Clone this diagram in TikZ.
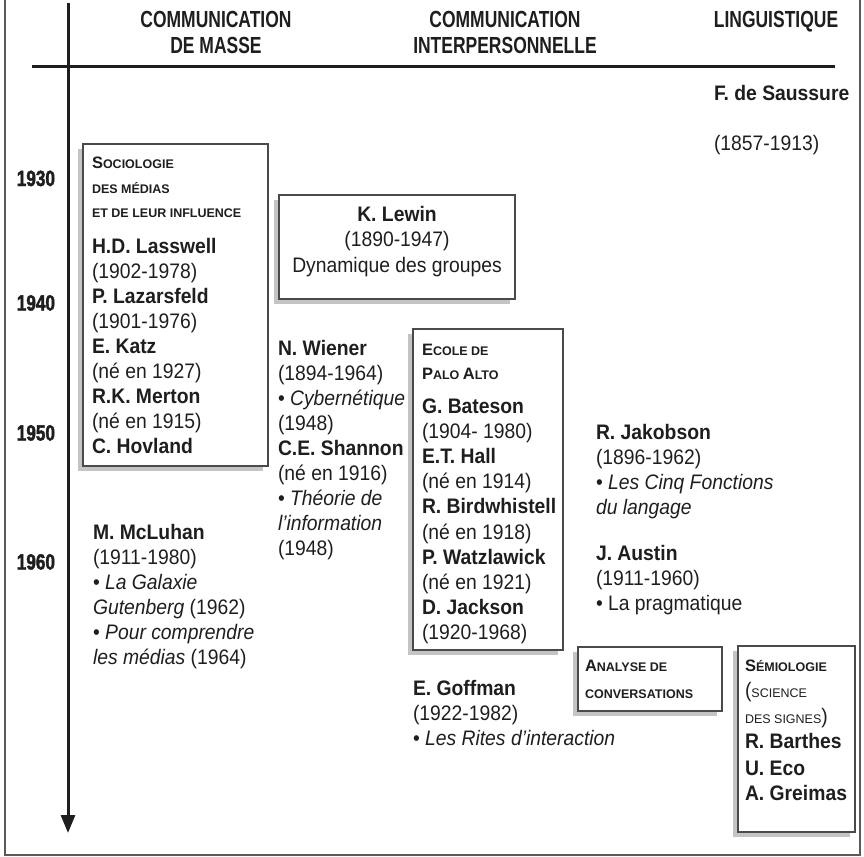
\documentclass[tikz,border=0pt]{standalone}
\usepackage{fontspec}
\setmainfont{Liberation Sans}[FakeStretch=0.92]
\newfontfamily\hdfont{Liberation Sans}[FakeStretch=0.75]
\newfontfamily\yrfont{Liberation Sans}[FakeStretch=0.78,FakeBold=2]
\newfontfamily\scfont{Liberation Sans}
\usetikzlibrary{shadows,arrows.meta}
\definecolor{ink}{HTML}{1E1E1E}
\definecolor{boxline}{HTML}{4A4A4A}
\definecolor{shade}{HTML}{C4C4C4}
\definecolor{framecol}{HTML}{5A5A5A}
\newcommand\fs{\rule{0pt}{19pt}}
\newcommand\SC[2]{{\scfont\bfseries\fontsize{16.5}{25}\selectfont #1\fontsize{12.5}{25}\selectfont #2}}
\newcommand\SCr[1]{{\scfont\fontsize{12.5}{25}\selectfont #1}}
\begin{document}
\begin{tikzpicture}[x=1pt,y=-1pt,
  box/.style={draw=boxline, line width=1.2pt, fill=white,
    drop shadow={shadow xshift=-5pt, shadow yshift=-5pt, fill=shade, opacity=1},
    inner sep=0pt, outer sep=0pt, anchor=north west},
  txt/.style={inner sep=0pt, outer sep=0pt, anchor=north west, align=left,
    font=\fontsize{21}{25}\selectfont, text=ink},
  hd/.style={inner sep=0pt, outer sep=0pt, anchor=north, align=center,
    font=\hdfont\bfseries\fontsize{23.3}{25.5}\selectfont, text=ink},
  yr/.style={inner sep=0pt, outer sep=0pt, anchor=base east,
    font=\yrfont\bfseries\fontsize{22}{25}\selectfont, text=ink},
  rule/.style={line width=3pt, draw=ink}]
\useasboundingbox (0,0) rectangle (864,856);

% outer frame
\coordinate (fTL) at (5,0);
\coordinate (fBL) at (5,855);
\coordinate (fBR) at (860,855);
\coordinate (fTR) at (860,0);
\draw[line width=1.5pt, framecol] (fTL) -- (fBL) -- (fBR) -- (fTR);

% axes
\coordinate (axtop) at (68,3);
\coordinate (axbot) at (68,833);
\draw[rule, -{Triangle[width=14pt,length=18pt]}] (axtop) -- (axbot);
\coordinate (hl) at (32,67);
\coordinate (hr) at (835,67);
\draw[rule] (hl) -- (hr);

% headers
\node[hd] (hmasse) at (216,9) {\fs COMMUNICATION\\ DE MASSE};
\node[hd] (hinter) at (505,9) {\fs COMMUNICATION\\ INTERPERSONNELLE};
\node[hd] (hling) at (776,9) {\fs LINGUISTIQUE};

% years
\node[yr] (y1930) at (55,186) {1930};
\node[yr] (y1940) at (55,310.5) {1940};
\node[yr] (y1950) at (55,440.5) {1950};
\node[yr] (y1960) at (55,569.5) {1960};

% Saussure
\node[txt] (saussure) at (714,81) {\fs\textbf{F. de Saussure}\\[25pt] (1857-1913)};

% Sociologie box
\node[box, minimum width=185pt, minimum height=322pt] (socbox) at (83,144) {};
\node[txt] (soctxt) at (92,149) {\fs\SC{S}{OCIOLOGIE}\\ \SC{}{DES MÉDIAS}\\[-0.5pt] \SC{}{ET DE LEUR INFLUENCE}\\[11pt]
  \textbf{H.D. Lasswell}\\ (1902-1978)\\ \textbf{P. Lazarsfeld}\\ (1901-1976)\\ \textbf{E. Katz}\\ (né en 1927)\\
  \textbf{R.K. Merton}\\ (né en 1915)\\ \textbf{C. Hovland}};

% Lewin box
\node[box, minimum width=236pt, minimum height=104pt] (lewinbox) at (279,195) {};
\node[txt, anchor=north, align=center, font=\fontsize{21}{25.5}\selectfont] (lewintxt) at (397,202)
  {\fs\textbf{K. Lewin}\\ (1890-1947)\\ Dynamique des groupes};

% Wiener / Shannon
\node[txt] (wiener) at (278,336.5) {\fs\textbf{N. Wiener}\\ (1894-1964)\\ • \textit{Cybernétique}\\ (1948)\\
  \textbf{C.E. Shannon}\\ (né en 1916)\\ • \textit{Théorie de}\\ \textit{l’information}\\ (1948)};

% Palo Alto box
\node[box, minimum width=150pt, minimum height=321pt] (palobox) at (413,329) {};
\node[txt, font=\fontsize{21}{25.2}\selectfont] (palotxt) at (422,336) {\fs\SC{E}{COLE DE}\\[-1.2pt] \SC{P}{ALO }\SC{A}{LTO}\\[8.8pt]
  \textbf{G. Bateson}\\ (1904- 1980)\\ \textbf{E.T. Hall}\\ (né en 1914)\\ \textbf{R. Birdwhistell}\\ (né en 1918)\\
  \textbf{P. Watzlawick}\\ (né en 1921)\\ \textbf{D. Jackson}\\ (1920-1968)};

% Jakobson / Austin
\node[txt] (jakobson) at (596,420.5) {\fs\textbf{R. Jakobson}\\ (1896-1962)\\ • \textit{Les Cinq Fonctions}\\ \textit{du langage}};
\node[txt] (austin) at (596,541.5) {\fs\textbf{J. Austin}\\ (1911-1960)\\ • La pragmatique};

% McLuhan
\node[txt] (mcluhan) at (93,520.5) {\fs\textbf{M. McLuhan}\\ (1911-1980)\\ • \textit{La Galaxie}\\ \textit{Gutenberg} (1962)\\
  • \textit{Pour comprendre}\\ \textit{les médias} (1964)};

% Goffman
\node[txt] (goffman) at (413,676.5) {\fs\textbf{E. Goffman}\\ (1922-1982)\\ • \textit{Les Rites d’interaction}};

% Analyse box
\node[box, minimum width=144pt, minimum height=64pt] (analysebox) at (578,647) {};
\node[txt] (analysetxt) at (585,652) {\fs\SC{A}{NALYSE DE}\\[2pt] \SC{}{CONVERSATIONS}};

% Semiologie box
\node[box, minimum width=117pt, minimum height=186pt] (semiobox) at (738,646) {};
\node[txt, font=\fontsize{21}{26}\selectfont] (semiotxt) at (745,652) {\fs\SC{S}{ÉMIOLOGIE}\\ (\SCr{SCIENCE}\\ \SCr{DES SIGNES})\\[-1pt]
  \textbf{R. Barthes}\\[1pt] \textbf{U. Eco}\\[-1pt] \textbf{A. Greimas}};
\end{tikzpicture}
\end{document}
